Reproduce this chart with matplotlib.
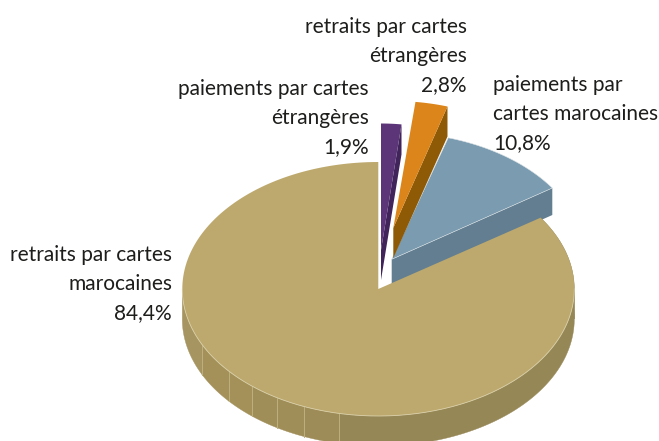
import numpy as np
import matplotlib
matplotlib.use("Agg")
import matplotlib.pyplot as plt
from matplotlib.patches import Polygon

# data
labels = ["retraits par cartes\nmarocaines\n84,4%",
          "paiements par\ncartes marocaines\n10,8%",
          "retraits par cartes\nétrangères\n2,8%",
          "paiements par cartes\nétrangères\n1,9%"]
values = [84.4, 10.8, 2.8, 1.9]

# style / layout (pixel space)
top_col = ["#BDA96E", "#7A9BB0", "#DC851B", "#5B3578"]
side_col = ["#968756", "#627E90", "#8F5A05", "#40245A"]
apex = [(378.3, 289), (391.7, 259.3), (393.3, 228), (381, 250)]
rx = [196, 163/0.84, 186, 172]
ry = [127, 127, 127, 126.5]
depth = [30, 27, 30, 30]
rib_angles = [206, 220.4, 230, 239, 247.8, 258.5]
rib_cols = ["#A69560", "#A39159", "#A39159", "#A08E59", "#A08E59", "#9E8C58"]
label_pos = [(172, 284, "right"), (493, 114, "left"), (467, 56, "right"), (369, 118, "right")]
FONT = ["Lato", "Open Sans", "DejaVu Sans"]

fig = plt.figure(figsize=(6.59, 4.41), dpi=100)
ax = fig.add_axes([0, 0, 1, 1])
ax.set_xlim(0, 659)
ax.set_ylim(441, 0)
ax.axis("off")

def arc(i, a0, a1, dy=0):
    t = np.radians(np.linspace(a0, a1, 200))
    cx, cy = apex[i]
    return np.column_stack([cx + rx[i]*np.cos(t), cy - ry[i]*np.sin(t) + dy])

def pt(i, a, dy=0):
    return arc(i, a, a, dy)[0]

total = sum(values)
spans = [v/total*360 for v in values]
start = 90.0
ranges = []
for s in spans:
    ranges.append((start, start+s))
    start += s

# exploded slices, back to front: blue, orange, purple
for i, z in zip([1, 2, 3], [2, 4, 6]):
    a0, a1 = ranges[i]
    a0 %= 360
    a1 = a0 + spans[i]
    cx, cy = apex[i]
    e = pt(i, a0)
    ax.add_patch(Polygon([(cx, cy), e, e+[0, depth[i]], (cx, cy+depth[i])],
                         fc=side_col[i], ec="none", zorder=z))
    ax.add_patch(Polygon(np.vstack([[(cx, cy)], arc(i, a0, a1)]),
                         fc=top_col[i], ec="#DDE3E6" if i == 1 else "none",
                         lw=0.4, zorder=z+0.5))

# main slice side
a0, a1 = ranges[0]
edges = [180] + rib_angles + [360, a1]
cols = rib_cols + [side_col[0], side_col[0]]
for k in range(len(edges)-1):
    top = arc(0, edges[k], edges[k+1])
    bot = arc(0, edges[k], edges[k+1], depth[0])[::-1]
    ax.add_patch(Polygon(np.vstack([top, bot]), fc=cols[k], ec=cols[k], lw=0.3, zorder=8))
for a in rib_angles:
    p = pt(0, a)
    ax.plot([p[0], p[0]], [p[1], p[1]+depth[0]], color="#BDB07E", lw=0.7, zorder=8.5)

# main slice top
cx, cy = apex[0]
ax.add_patch(Polygon(np.vstack([[(cx, cy)], arc(0, a0, a1)]),
                     fc=top_col[0], ec="none", zorder=9))
ax.plot(*arc(0, 180, 360).T, color="#D9CFA8", lw=0.6, zorder=9.5)

for lab, (x, y, ha) in zip(labels, label_pos):
    ax.text(x, y, lab, ha=ha, va="center", ma=ha, fontsize=15, family=FONT,
            color="#1d1d1b", linespacing=1.55, zorder=10)

fig.savefig("out.png", dpi=100)
